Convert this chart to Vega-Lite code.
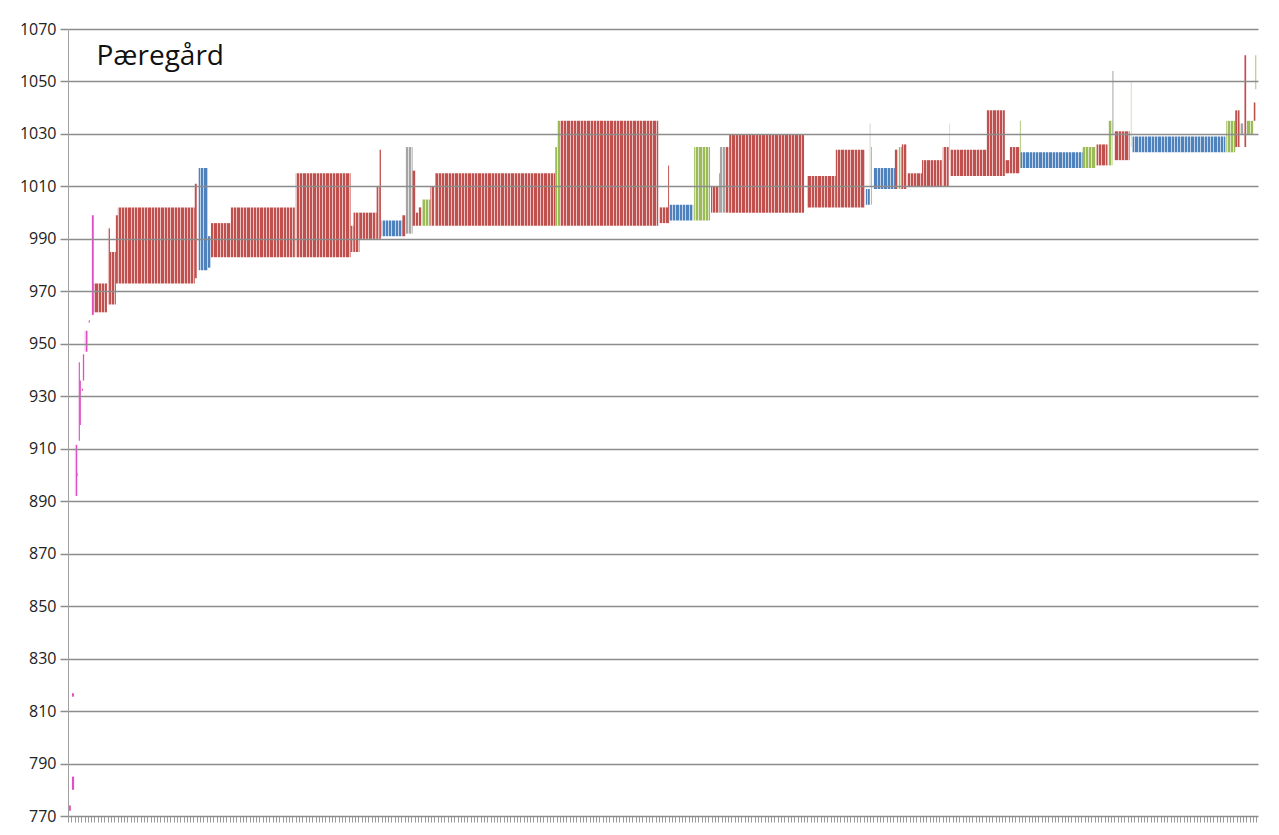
{
  "$schema": "https://vega.github.io/schema/vega-lite/v6.json",
  "autosize": {"type": "none"},
  "padding": {"left": 68, "top": 29, "right": 21, "bottom": 19},
  "width": 1190,
  "height": 787,
  "background": "white",
  "config": {"view": {"stroke": null}},
  "data": {"values": [
    {"start": 0.2, "end": 0.85, "low": 772, "high": 774, "type": "E"},
    {"start": 1.15, "end": 1.85, "low": 780, "high": 785, "type": "E"},
    {"start": 1.2, "end": 1.8, "low": 815.5, "high": 816.8, "type": "E"},
    {"start": 2.1, "end": 2.8, "low": 892, "high": 911.5, "type": "E"},
    {"start": 2.5, "end": 2.9, "low": 899.5, "high": 900.8, "type": "E"},
    {"start": 3.1, "end": 3.6, "low": 913, "high": 943, "type": "E"},
    {"start": 3.5, "end": 3.9, "low": 919, "high": 936, "type": "E"},
    {"start": 4.1, "end": 4.5, "low": 932, "high": 933, "type": "E"},
    {"start": 4.5, "end": 4.9, "low": 936, "high": 946, "type": "E"},
    {"start": 5.1, "end": 5.9, "low": 947, "high": 955, "type": "E"},
    {"start": 6.1, "end": 6.6, "low": 958, "high": 959, "type": "E"},
    {"start": 7.15, "end": 7.8, "low": 961, "high": 999, "type": "E"},
    {"start": 7.8, "end": 11.8, "low": 962, "high": 973, "type": "A"},
    {"start": 12.1, "end": 12.7, "low": 965, "high": 994, "type": "A"},
    {"start": 12.7, "end": 14.5, "low": 965, "high": 985, "type": "A"},
    {"start": 14.5, "end": 15.1, "low": 973, "high": 999, "type": "A"},
    {"start": 15.1, "end": 38.4, "low": 973, "high": 1002, "type": "A"},
    {"start": 38.4, "end": 39.0, "low": 975, "high": 1011, "type": "A"},
    {"start": 39.6, "end": 42.4, "low": 978, "high": 1017, "type": "B"},
    {"start": 42.4, "end": 43.3, "low": 979, "high": 991, "type": "B"},
    {"start": 43.3, "end": 49.3, "low": 983, "high": 996, "type": "A"},
    {"start": 49.3, "end": 68.7, "low": 983, "high": 1002, "type": "A"},
    {"start": 69.0, "end": 85.6, "low": 983, "high": 1015, "type": "A"},
    {"start": 85.6, "end": 86.5, "low": 985, "high": 995, "type": "A"},
    {"start": 86.5, "end": 88.3, "low": 985, "high": 1000, "type": "A"},
    {"start": 88.3, "end": 93.5, "low": 990, "high": 1000, "type": "A"},
    {"start": 93.5, "end": 94.4, "low": 990, "high": 1010, "type": "A"},
    {"start": 94.4, "end": 94.8, "low": 990, "high": 1024, "type": "A"},
    {"start": 95.0, "end": 101.3, "low": 991, "high": 997, "type": "B"},
    {"start": 101.3, "end": 102.3, "low": 991, "high": 999, "type": "A"},
    {"start": 102.3, "end": 104.4, "low": 992, "high": 1025, "type": "D"},
    {"start": 104.4, "end": 105.3, "low": 995, "high": 1016, "type": "A"},
    {"start": 105.3, "end": 106.2, "low": 995, "high": 1000, "type": "A"},
    {"start": 106.2, "end": 107.1, "low": 995, "high": 1002, "type": "A"},
    {"start": 107.4, "end": 109.8, "low": 995, "high": 1005, "type": "C"},
    {"start": 109.8, "end": 111.0, "low": 995, "high": 1010, "type": "A"},
    {"start": 111.3, "end": 147.6, "low": 995, "high": 1015, "type": "A"},
    {"start": 147.6, "end": 148.2, "low": 995, "high": 1025, "type": "C"},
    {"start": 148.2, "end": 149.1, "low": 995, "high": 1035, "type": "C"},
    {"start": 149.1, "end": 178.8, "low": 995, "high": 1035, "type": "A"},
    {"start": 179.1, "end": 181.8, "low": 996, "high": 1002, "type": "A"},
    {"start": 181.8, "end": 182.1, "low": 996, "high": 1018, "type": "A"},
    {"start": 182.1, "end": 189.4, "low": 997, "high": 1003, "type": "B"},
    {"start": 189.7, "end": 194.5, "low": 997, "high": 1025, "type": "C"},
    {"start": 194.8, "end": 197.2, "low": 1000, "high": 1010, "type": "A"},
    {"start": 197.2, "end": 197.5, "low": 1000, "high": 1015, "type": "C"},
    {"start": 197.5, "end": 199.1, "low": 1000, "high": 1025, "type": "D"},
    {"start": 199.1, "end": 200.3, "low": 1000, "high": 1025, "type": "A"},
    {"start": 200.3, "end": 223.0, "low": 1000, "high": 1030, "type": "A"},
    {"start": 223.9, "end": 232.6, "low": 1002, "high": 1014, "type": "A"},
    {"start": 232.6, "end": 241.4, "low": 1002, "high": 1024, "type": "A"},
    {"start": 241.7, "end": 242.9, "low": 1003, "high": 1009, "type": "B"},
    {"start": 242.9, "end": 243.2, "low": 1010, "high": 1034, "type": "D"},
    {"start": 243.2, "end": 243.5, "low": 1003, "high": 1025, "type": "C"},
    {"start": 244.1, "end": 250.5, "low": 1009, "high": 1017, "type": "B"},
    {"start": 250.5, "end": 251.4, "low": 1009, "high": 1024, "type": "A"},
    {"start": 251.7, "end": 252.6, "low": 1009, "high": 1025, "type": "C"},
    {"start": 252.6, "end": 254.1, "low": 1009, "high": 1026, "type": "A"},
    {"start": 254.4, "end": 258.7, "low": 1010, "high": 1015, "type": "A"},
    {"start": 258.7, "end": 264.7, "low": 1010, "high": 1020, "type": "A"},
    {"start": 265.0, "end": 266.8, "low": 1010, "high": 1025, "type": "A"},
    {"start": 266.9, "end": 267.2, "low": 1020, "high": 1034, "type": "D"},
    {"start": 267.4, "end": 278.3, "low": 1014, "high": 1024, "type": "A"},
    {"start": 278.3, "end": 283.8, "low": 1014, "high": 1039, "type": "A"},
    {"start": 283.8, "end": 285.3, "low": 1015, "high": 1020, "type": "A"},
    {"start": 285.3, "end": 288.3, "low": 1015, "high": 1025, "type": "A"},
    {"start": 288.3, "end": 288.6, "low": 1017, "high": 1035, "type": "C"},
    {"start": 288.6, "end": 307.4, "low": 1017, "high": 1023, "type": "B"},
    {"start": 307.4, "end": 311.3, "low": 1017, "high": 1025, "type": "C"},
    {"start": 311.6, "end": 314.9, "low": 1018, "high": 1026, "type": "A"},
    {"start": 315.2, "end": 316.4, "low": 1018, "high": 1035, "type": "C"},
    {"start": 316.4, "end": 316.7, "low": 1030, "high": 1054, "type": "D"},
    {"start": 317.0, "end": 321.6, "low": 1020, "high": 1031, "type": "A"},
    {"start": 322.0, "end": 322.3, "low": 1025, "high": 1050, "type": "C"},
    {"start": 322.5, "end": 350.6, "low": 1023, "high": 1029, "type": "B"},
    {"start": 350.9, "end": 353.6, "low": 1023, "high": 1035, "type": "C"},
    {"start": 353.6, "end": 354.9, "low": 1025, "high": 1039, "type": "A"},
    {"start": 354.9, "end": 356.1, "low": 1030, "high": 1034, "type": "D"},
    {"start": 356.4, "end": 357.0, "low": 1025, "high": 1060, "type": "A"},
    {"start": 357.0, "end": 359.1, "low": 1030, "high": 1035, "type": "C"},
    {"start": 359.1, "end": 359.7, "low": 1035, "high": 1042, "type": "A"},
    {"start": 359.7, "end": 360.1, "low": 1047, "high": 1060, "type": "C"}
  ]},
  "mark": {"type": "rect"},
  "encoding": {
    "x": {"field": "start", "type": "quantitative", "scale": {"domain": [0, 360.5], "nice": false, "zero": false},
      "axis": {"title": null, "labels": false, "domain": false, "grid": true, "gridColor": "white", "gridOpacity": 0.65, "gridWidth": 1, "ticks": true, "tickColor": "#9a9a9a", "tickSize": 6, "tickWidth": 1, "tickCount": 360, "tickMinStep": 1, "zindex": 1}},
    "x2": {"field": "end"},
    "y": {"field": "low", "type": "quantitative", "scale": {"domain": [770, 1070], "nice": false, "zero": false},
      "axis": {"title": "Pæregård", "titleX": 28, "titleY": 35, "titleAngle": 0, "titleAlign": "left", "titleBaseline": "alphabetic", "titleFont": "Open Sans", "titleFontSize": 28, "titleFontWeight": "normal", "titleColor": "#111",
        "format": "d", "values": [770, 790, 810, 830, 850, 870, 890, 910, 930, 950, 970, 990, 1010, 1030, 1050, 1070], "grid": true, "gridColor": "#8c8c8c", "gridWidth": 1.5, "domain": true, "domainColor": "#a0a0a0", "domainWidth": 1, "tickColor": "#8c8c8c", "tickSize": 8, "tickWidth": 1.5, "labelFont": "Open Sans", "labelFontSize": 16, "labelColor": "#222", "labelPadding": 4, "zindex": 2}},
    "y2": {"field": "high"},
    "color": {"field": "type", "type": "nominal", "legend": null,
      "scale": {"domain": ["A", "B", "C", "D", "E"], "range": ["#C0504D", "#4F81BD", "#9BBB59", "#A5A5A5", "#E050C4"]}}
  }
}
